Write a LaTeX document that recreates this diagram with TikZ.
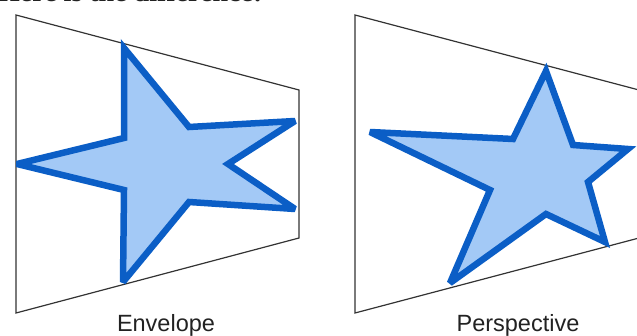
\documentclass[tikz,border=0pt]{standalone}
\usepackage{fontspec}
\setmainfont{Liberation Sans}
\newfontfamily\headfont{Liberation Serif}
\usetikzlibrary{positioning}
\definecolor{ink}{HTML}{222222}
\definecolor{frameline}{HTML}{333333}
\definecolor{starline}{HTML}{0B5EC6}
\definecolor{starfill}{HTML}{A3C9F6}

\begin{document}
\begin{tikzpicture}[
  x=1pt, y=-1pt,
  text=ink,
  frame/.style={draw=frameline, line width=1.2pt, line join=miter},
  star/.style={draw=starline, fill=starfill, line width=6.5pt, line join=miter, miter limit=3},
  caption/.style={font=\fontsize{23.5}{28}\selectfont, inner sep=0pt, anchor=base}
]
  \useasboundingbox (0,0) rectangle (637,336);
  \clip (0,0) rectangle (637,336);
  \node[font=\headfont\bfseries\fontsize{28}{32}\selectfont, inner sep=0pt, anchor=base west]
    (heading) at (-2,1.5) {Here is the difference:};

  % envelope
  \draw[frame] (16,15) -- (299,90) -- (299,238) -- (16,313) -- cycle;
  \draw[star] (124,48) -- (189,127) -- (295,121) -- (228,164) -- (295,209)
    -- (189,202) -- (123,282) -- (124,190) -- (17,164) -- (124,138) -- cycle;
  \node[caption] (envlabel) at (166,332) {Envelope};

  % perspective
  \draw[frame] (355,15) -- (639,90) -- (639,238) -- (355,313) -- cycle;
  \draw[star] (546,71) -- (573,145) -- (628,149) -- (588,182) -- (605,242)
    -- (546,214) -- (450,283) -- (490,190) -- (370,132) -- (513,139) -- cycle;
  \node[caption] (perlabel) at (518,332) {Perspective};
\end{tikzpicture}
\end{document}
